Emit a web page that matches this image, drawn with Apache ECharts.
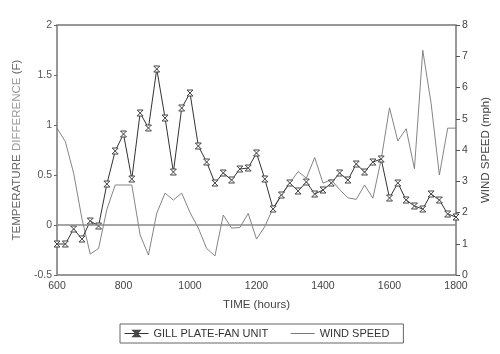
<!DOCTYPE html>
<html>
<head>
<meta charset="utf-8">
<script src="https://cdn.jsdelivr.net/npm/echarts@6/dist/echarts.min.js"></script>
<style>
  html, body { margin: 0; padding: 0; background: #fff; }
  #chart { width: 500px; height: 354px; }
</style>
</head>
<body>
<div id="chart"></div>
<script>
// time of each reading (hours)
var hours = [600, 625, 650, 675, 700, 725, 750, 775, 800, 825, 850, 875, 900, 925, 950, 975,
  1000, 1025, 1050, 1075, 1100, 1125, 1150, 1175, 1200, 1225, 1250, 1275, 1300, 1325, 1350, 1375,
  1400, 1425, 1450, 1475, 1500, 1525, 1550, 1575, 1600, 1625, 1650, 1675, 1700, 1725, 1750, 1775, 1800];

// temperature difference (F), gill plate-fan unit
var gillPlate = [-0.19, -0.19, -0.04, -0.14, 0.04, -0.01, 0.41, 0.74, 0.91, 0.46, 1.12, 0.97, 1.56, 1.07, 0.53, 1.17,
  1.32, 0.79, 0.63, 0.42, 0.52, 0.45, 0.56, 0.57, 0.72, 0.46, 0.16, 0.30, 0.42, 0.34, 0.43, 0.31,
  0.35, 0.42, 0.52, 0.45, 0.61, 0.53, 0.63, 0.66, 0.27, 0.42, 0.25, 0.19, 0.16, 0.31, 0.25, 0.11, 0.08];

// wind speed (mph)
var windSpeed = [4.7, 4.27, 3.26, 1.8, 0.67, 0.85, 2.1, 2.88, 2.88, 2.88, 1.28, 0.64, 1.98, 2.62, 2.4, 2.62,
  2.0, 1.5, 0.85, 0.61, 1.92, 1.5, 1.52, 1.97, 1.15, 1.55, 2.15, 2.56, 2.94, 3.31, 3.1, 3.76,
  2.94, 3.05, 2.73, 2.47, 2.42, 2.88, 2.46, 3.7, 5.35, 4.29, 4.68, 3.4, 7.19, 5.5, 3.2, 4.7, 4.7];

var leftTicks = { min: -0.5, max: 2, interval: 0.5 };
var rightTicks = { min: 0, max: 8, interval: 1 };
var timeTicks = { min: 600, max: 1800, interval: 200 };

var font = "'Liberation Sans', Arial, sans-serif";

function pairs(xs, ys) {
  return xs.map(function (x, i) { return [x, ys[i]]; });
}

var myChart = echarts.init(document.getElementById("chart"), null, { renderer: "canvas" });

var option = {
  backgroundColor: "#fff",
  animation: false,
  textStyle: { fontFamily: font },
  grid: {
    left: 57,
    right: 42,
    top: 25,
    bottom: 79,
    show: true,
    borderColor: "#777",
    borderWidth: 1.5,
  },
  legend: {
    left: 120,
    top: 324,
    padding: [4, 14, 4, 4],
    itemGap: 22,
    itemWidth: 24,
    itemHeight: 7,
    borderColor: "#666",
    borderWidth: 1,
    textStyle: { color: "#333", fontSize: 11, fontFamily: font },
    data: [
      { name: "GILL PLATE-FAN UNIT", lineStyle: { width: 1 } },
      { name: "WIND SPEED", itemStyle: { opacity: 0 }, lineStyle: { width: 1 } },
    ],
  },
  xAxis: {
    type: "value",
    min: timeTicks.min,
    max: timeTicks.max,
    interval: timeTicks.interval,
    name: "TIME (hours)",
    nameLocation: "middle",
    nameGap: 24,
    nameTextStyle: { color: "#444", fontSize: 11.5, fontFamily: font },
    axisLine: { show: false },
    axisTick: { show: false },
    splitLine: { show: false },
    axisLabel: {
      color: "#444",
      fontSize: 10.5,
      margin: 6,
      fontFamily: font,
      formatter: function (v) { return String(v); },
    },
  },
  yAxis: [
    {
      type: "value",
      min: leftTicks.min,
      max: leftTicks.max,
      interval: leftTicks.interval,
      name: "{a|TEMPERATURE} {b|DIFFERENCE} {a|(F)}",
      nameLocation: "middle",
      nameGap: 27,
      nameTextStyle: {
        fontFamily: font,
        rich: {
          a: { color: "#666", fontSize: 11.5, fontFamily: font },
          b: { color: "#9a9a9a", fontSize: 11.5, fontFamily: font },
        },
      },
      axisLine: { show: false },
      axisTick: { show: true, length: 3, lineStyle: { color: "#666" } },
      splitLine: { show: false },
      axisLabel: { color: "#555", fontSize: 10.5, margin: 5, fontFamily: font },
    },
    {
      type: "value",
      position: "right",
      min: rightTicks.min,
      max: rightTicks.max,
      interval: rightTicks.interval,
      name: "WIND SPEED (mph)",
      nameLocation: "middle",
      nameGap: 24,
      nameRotate: 90,
      nameTextStyle: { color: "#444", fontSize: 11.5, fontFamily: font },
      axisLine: { show: false },
      axisTick: { show: true, length: 4, lineStyle: { color: "#555" } },
      splitLine: { show: false },
      axisLabel: { color: "#444", fontSize: 10.5, margin: 6, fontFamily: font },
    },
  ],
  series: [
    {
      name: "GILL PLATE-FAN UNIT",
      type: "line",
      yAxisIndex: 0,
      data: pairs(hours, gillPlate),
      symbol: "path://M0,0 L10,0 L0,10 L10,10 Z",
      symbolSize: [6, 6],
      showAllSymbol: true,
      itemStyle: { color: "#fff", borderColor: "#444", borderWidth: 1 },
      lineStyle: { color: "#333", width: 1 },
      markLine: {
        silent: true,
        symbol: "none",
        label: { show: false },
        lineStyle: { color: "#888", width: 1.5, type: "solid" },
        data: [{ yAxis: 0 }],
      },
      z: 3,
    },
    {
      name: "WIND SPEED",
      type: "line",
      yAxisIndex: 1,
      data: pairs(hours, windSpeed),
      symbol: "none",
      lineStyle: { color: "#777", width: 0.9 },
      itemStyle: { color: "#777" },
      z: 2,
    },
  ],
};

myChart.setOption(option, true);
</script>
</body>
</html>
